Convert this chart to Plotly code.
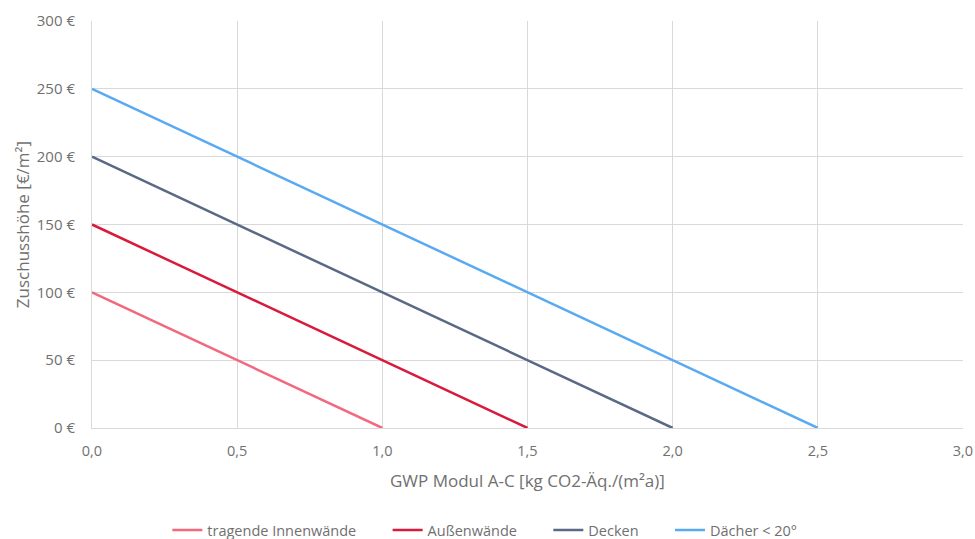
import plotly.graph_objects as go

series_names = ["tragende Innenwände", "Außenwände", "Decken", "Dächer < 20°"]
x_start = [0.0, 0.0, 0.0, 0.0]
x_end = [1.0, 1.5, 2.0, 2.5]
y_start = [100, 150, 200, 250]
y_end = [0, 0, 0, 0]
colors = ["#F2697F", "#D81B3C", "#5A6A85", "#5AAAF2"]

x_ticks = [0.0, 0.5, 1.0, 1.5, 2.0, 2.5, 3.0]
x_tick_labels = ["0,0", "0,5", "1,0", "1,5", "2,0", "2,5", "3,0"]
y_ticks = [0, 50, 100, 150, 200, 250, 300]
y_tick_labels = ["0 €", "50 €", "100 €", "150 €", "200 €", "250 €", "300 €"]

x_title = "GWP Modul A-C [kg CO2-Äq./(m²a)]"
y_title = "Zuschusshöhe [€/m²]"

text_color = "#707070"
FONT = "Open Sans"
PAD = "\u00a0" * 7  # spacing after legend entries

fig = go.Figure()
for name, xs, xe, ys, ye, c in zip(series_names, x_start, x_end, y_start, y_end, colors):
    fig.add_trace(go.Scatter(x=[xs, xe], y=[ys, ye], mode="lines", name=name + PAD,
                             line=dict(color=c, width=2.5)))

fig.update_layout(
    width=975, height=539,
    margin=dict(l=92, r=12, t=21, b=111, autoexpand=False),
    paper_bgcolor="white", plot_bgcolor="white",
    font=dict(family=FONT, size=14, color=text_color),
    showlegend=True,
    legend=dict(orientation="h", x=0.0865, xanchor="left", y=-0.2506, yanchor="middle",
                font=dict(size=14.5, color=text_color), tracegroupgap=0),
    xaxis=dict(range=[0, 3], tickvals=x_ticks, ticktext=x_tick_labels,
               showgrid=True, gridcolor="#D9D9D9", gridwidth=1,
               zeroline=False, showline=True, linecolor="#D9D9D9", linewidth=1.2,
               ticks="outside", ticklen=9, tickcolor="rgba(0,0,0,0)",
               automargin=False, ticklabeloverflow="allow", tickfont=dict(size=14.5)),
    yaxis=dict(range=[0, 300], tickvals=y_ticks, ticktext=y_tick_labels,
               showgrid=True, gridcolor="#D9D9D9", gridwidth=1,
               zeroline=False, showline=True, linecolor="#D9D9D9",
               ticks="outside", ticklen=13, tickcolor="rgba(0,0,0,0)",
               automargin=False, ticklabeloverflow="allow", tickfont=dict(size=15)),
    annotations=[
        dict(text=x_title, xref="paper", yref="paper", x=0.5, y=-0.1278,
             xanchor="center", yanchor="middle", showarrow=False,
             font=dict(size=17, color=text_color)),
        dict(text=y_title, xref="paper", yref="paper", x=-0.0796, y=0.5,
             xanchor="center", yanchor="middle", showarrow=False, textangle=-90,
             font=dict(size=17, color=text_color)),
    ],
)

fig.write_html(
    "out.html",
    config={"displayModeBar": False},
    post_script="document.body.style.margin='0';document.body.style.overflow='hidden';",
)
